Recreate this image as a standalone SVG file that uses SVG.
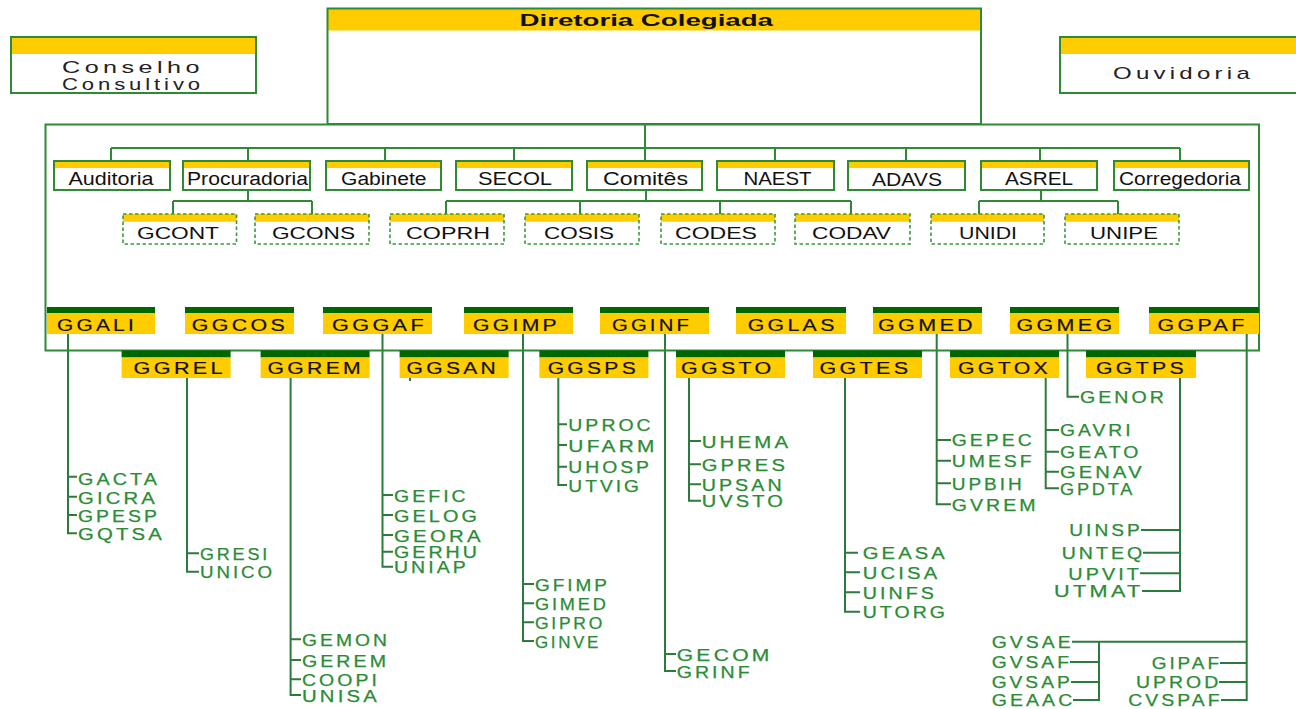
<svg xmlns="http://www.w3.org/2000/svg" width="1296" height="709" viewBox="0 0 1296 709">
<style>
.bx{fill:none;stroke:#2e8a35;stroke-width:2}
.dbx{fill:none;stroke:#3a9a3c;stroke-width:1.6;stroke-dasharray:3.5 2.5}
.wh{fill:#fff}
.yl{fill:#ffcc00}
.dg{fill:#006600}
.ln{fill:none;stroke:#2d7a3e;stroke-width:2}
.lt{fill:none;stroke:#2e8a35;stroke-width:2}
text{font-family:"Liberation Sans",Arial,sans-serif}
.t1{font-size:18px;fill:#111}
.t2{font-size:17px;fill:#111}
.tt{font-size:17px;font-weight:bold;fill:#111}
.tc{font-size:17px;fill:#222;letter-spacing:3px}
.gg{font-size:16px;fill:#111;stroke:#111;stroke-width:0.2;letter-spacing:2.5px}
.ch{font-size:16px;fill:#2b8c36;stroke:#2b8c36;stroke-width:0.25;letter-spacing:2.5px}
</style>
<rect class="wh" x="0" y="0" width="1296" height="709"/>

<g id="connectors">
<path class="lt" d="M645,124 V148 M111,148 H1180 M111,148 V161 M248,148 V161 M385,148 V161 M514,148 V161 M645,148 V161 M775,148 V161 M906,148 V161 M1040,148 V161 M1180,148 V161"/>
<path class="lt" d="M248,190 V201 M173,201 H312 M173,201 V214 M312,201 V214"/>
<path class="lt" d="M646,190 V201 M446,201 H851 M446,201 V214 M580,201 V214 M720,201 V214 M851,201 V214"/>
<path class="lt" d="M1041,190 V201 M979,201 H1118 M979,201 V214 M1118,201 V214"/>
<path class="ln" d="M68,334 V533.3 H77 M68,476.7 H77 M68,496.7 H77 M68,515 H77"/>
<path class="ln" d="M187,378 V571.7 H199 M187,553.3 H199"/>
<path class="ln" d="M290.6,378 V695 H301 M290.6,639.3 H301 M290.6,660 H301 M290.6,679.3 H301"/>
<path class="ln" d="M382.5,334 V566.7 H393 M382.5,495 H393 M382.5,515 H393 M382.5,535 H393 M382.5,551.7 H393"/>
<path class="ln" d="M410,378 V381"/>
<path class="ln" d="M523,334 V641 H534 M523,584 H534 M523,603.3 H534 M523,622.3 H534"/>
<path class="ln" d="M558.3,378 V485 H567 M558.3,424.3 H567 M558.3,445 H567 M558.3,466.7 H567"/>
<path class="ln" d="M665,334 V671 H676 M665,654 H676"/>
<path class="ln" d="M689,378 V500.7 H701 M689,441 H701 M689,464.3 H701 M689,484.3 H701"/>
<path class="ln" d="M845,378 V611.7 H860 M845,552.7 H858 M845,572.3 H860 M845,592.3 H860"/>
<path class="ln" d="M936.7,334 V504.3 H951 M936.7,440 H951 M936.7,460.7 H951 M936.7,483.3 H951"/>
<path class="ln" d="M1045.7,378 V488.3 H1059 M1045.7,430 H1059 M1045.7,451.7 H1059 M1045.7,471.7 H1059"/>
<path class="ln" d="M1067.5,334 V396.7 H1079"/>
<path class="ln" d="M1180,378 V591 H1142 M1141,530 H1180 M1143,552.7 H1180 M1140,573.3 H1180"/>
<path class="ln" d="M1246.7,334 V700 H1221 M1072,641.7 H1246.7 M1220,663 H1246.7 M1219,682 H1246.7"/>
<path class="ln" d="M1099,641.7 V700 H1073 M1070,662 H1099 M1071,682 H1099"/>
</g>

<g id="diretoria">
<rect class="wh" x="327.5" y="8.5" width="653.5" height="115.5"/>
<rect class="yl" x="328" y="9" width="652.5" height="21.5"/>
<rect class="bx" x="327.5" y="8.5" width="653.5" height="115.5"/>
<text class="tt" x="519.5" y="26" textLength="253.5" lengthAdjust="spacingAndGlyphs">Diretoria Colegiada</text>
</g>

<g id="conselho">
<rect class="wh" x="11" y="37" width="245" height="56"/>
<rect class="yl" x="11" y="37" width="245" height="17"/>
<rect class="bx" x="11" y="37" width="245" height="56"/>
<text class="tc" x="62" y="73" textLength="142" lengthAdjust="spacingAndGlyphs">Conselho</text>
<text class="tc" x="62" y="89.5" textLength="142" lengthAdjust="spacingAndGlyphs">Consultivo</text>
</g>

<g id="ouvidoria">
<rect class="wh" x="1060" y="37" width="240" height="56"/>
<rect class="yl" x="1060" y="37" width="240" height="17"/>
<rect class="bx" x="1060" y="37" width="240" height="56"/>
<text class="tc" x="1113" y="78.5" textLength="141" lengthAdjust="spacingAndGlyphs">Ouvidoria</text>
</g>

<g id="nucleo">
<rect class="bx" x="45.5" y="124.5" width="1213.5" height="226"/>
</g>

<g id="auditoria"><rect class="wh" x="54" y="161" width="116" height="29"/><rect class="yl" x="54" y="161" width="116" height="7"/><rect class="bx" x="54" y="161" width="116" height="29"/><text class="t1" x="68.5" y="185" textLength="85" lengthAdjust="spacingAndGlyphs">Auditoria</text></g>
<g id="procuradoria"><rect class="wh" x="183" y="161" width="127" height="29"/><rect class="yl" x="183" y="161" width="127" height="7"/><rect class="bx" x="183" y="161" width="127" height="29"/><text class="t1" x="187" y="185" textLength="121" lengthAdjust="spacingAndGlyphs">Procuradoria</text></g>
<g id="gabinete"><rect class="wh" x="326" y="161" width="115" height="29"/><rect class="yl" x="326" y="161" width="115" height="7"/><rect class="bx" x="326" y="161" width="115" height="29"/><text class="t1" x="341" y="185" textLength="85.5" lengthAdjust="spacingAndGlyphs">Gabinete</text></g>
<g id="secol"><rect class="wh" x="456" y="161" width="116" height="29"/><rect class="yl" x="456" y="161" width="116" height="7"/><rect class="bx" x="456" y="161" width="116" height="29"/><text class="t1" x="478" y="185" textLength="74" lengthAdjust="spacingAndGlyphs">SECOL</text></g>
<g id="comites"><rect class="wh" x="587" y="161" width="115" height="29"/><rect class="yl" x="587" y="161" width="115" height="7"/><rect class="bx" x="587" y="161" width="115" height="29"/><text class="t1" x="603" y="184.5" textLength="85" lengthAdjust="spacingAndGlyphs">Comitês</text></g>
<g id="naest"><rect class="wh" x="717" y="161" width="117" height="29"/><rect class="yl" x="717" y="161" width="117" height="7"/><rect class="bx" x="717" y="161" width="117" height="29"/><text class="t1" x="743.5" y="185" textLength="68" lengthAdjust="spacingAndGlyphs">NAEST</text></g>
<g id="adavs"><rect class="wh" x="848" y="161" width="117" height="29"/><rect class="yl" x="848" y="161" width="117" height="7"/><rect class="bx" x="848" y="161" width="117" height="29"/><text class="t1" x="872" y="186" textLength="70" lengthAdjust="spacingAndGlyphs">ADAVS</text></g>
<g id="asrel"><rect class="wh" x="981" y="161" width="116" height="29"/><rect class="yl" x="981" y="161" width="116" height="7"/><rect class="bx" x="981" y="161" width="116" height="29"/><text class="t1" x="1005" y="185" textLength="68" lengthAdjust="spacingAndGlyphs">ASREL</text></g>
<g id="corregedoria"><rect class="wh" x="1114" y="161" width="135" height="29"/><rect class="yl" x="1114" y="161" width="135" height="7"/><rect class="bx" x="1114" y="161" width="135" height="29"/><text class="t1" x="1119" y="184.5" textLength="122" lengthAdjust="spacingAndGlyphs">Corregedoria</text></g>

<g id="gcont"><rect class="wh" x="123" y="214" width="113.5" height="30"/><rect class="yl" x="123" y="214" width="113.5" height="7.7"/><rect class="dbx" x="123" y="214" width="113.5" height="30"/><text class="t2" x="137" y="238.5" textLength="82" lengthAdjust="spacingAndGlyphs">GCONT</text></g>
<g id="gcons"><rect class="wh" x="255" y="214" width="114" height="30"/><rect class="yl" x="255" y="214" width="114" height="7.7"/><rect class="dbx" x="255" y="214" width="114" height="30"/><text class="t2" x="272" y="238.5" textLength="83" lengthAdjust="spacingAndGlyphs">GCONS</text></g>
<g id="coprh"><rect class="wh" x="390" y="214" width="114" height="30"/><rect class="yl" x="390" y="214" width="114" height="7.7"/><rect class="dbx" x="390" y="214" width="114" height="30"/><text class="t2" x="406" y="238.5" textLength="84" lengthAdjust="spacingAndGlyphs">COPRH</text></g>
<g id="cosis"><rect class="wh" x="525" y="214" width="114" height="30"/><rect class="yl" x="525" y="214" width="114" height="7.7"/><rect class="dbx" x="525" y="214" width="114" height="30"/><text class="t2" x="544" y="238.5" textLength="70" lengthAdjust="spacingAndGlyphs">COSIS</text></g>
<g id="codes"><rect class="wh" x="661" y="214" width="114" height="30"/><rect class="yl" x="661" y="214" width="114" height="7.7"/><rect class="dbx" x="661" y="214" width="114" height="30"/><text class="t2" x="675" y="238.5" textLength="82" lengthAdjust="spacingAndGlyphs">CODES</text></g>
<g id="codav"><rect class="wh" x="795" y="214" width="115" height="30"/><rect class="yl" x="795" y="214" width="115" height="7.7"/><rect class="dbx" x="795" y="214" width="115" height="30"/><text class="t2" x="812" y="238.5" textLength="79" lengthAdjust="spacingAndGlyphs">CODAV</text></g>
<g id="unidi"><rect class="wh" x="931" y="214" width="113" height="30"/><rect class="yl" x="931" y="214" width="113" height="7.7"/><rect class="dbx" x="931" y="214" width="113" height="30"/><text class="t2" x="959" y="238.5" textLength="58" lengthAdjust="spacingAndGlyphs">UNIDI</text></g>
<g id="unipe"><rect class="wh" x="1065" y="214" width="114" height="30"/><rect class="yl" x="1065" y="214" width="114" height="7.7"/><rect class="dbx" x="1065" y="214" width="114" height="30"/><text class="t2" x="1090" y="238.5" textLength="68" lengthAdjust="spacingAndGlyphs">UNIPE</text></g>

<g id="ggali"><rect class="dg" x="47" y="307" width="108" height="6"/><rect class="yl" x="47" y="313" width="108" height="21"/><text class="gg" x="57" y="331" textLength="80" lengthAdjust="spacingAndGlyphs">GGALI</text></g>
<g id="ggcos"><rect class="dg" x="185" y="307" width="109" height="6"/><rect class="yl" x="185" y="313" width="109" height="21"/><text class="gg" x="191.7" y="331" textLength="96.3" lengthAdjust="spacingAndGlyphs">GGCOS</text></g>
<g id="gggaf"><rect class="dg" x="323" y="307" width="109" height="6"/><rect class="yl" x="323" y="313" width="109" height="21"/><text class="gg" x="332" y="331" textLength="95" lengthAdjust="spacingAndGlyphs">GGGAF</text></g>
<g id="ggimp"><rect class="dg" x="464" y="307" width="109" height="6"/><rect class="yl" x="464" y="313" width="109" height="21"/><text class="gg" x="473" y="331" textLength="87" lengthAdjust="spacingAndGlyphs">GGIMP</text></g>
<g id="gginf"><rect class="dg" x="600" y="307" width="109" height="6"/><rect class="yl" x="600" y="313" width="109" height="21"/><text class="gg" x="612" y="331" textLength="80" lengthAdjust="spacingAndGlyphs">GGINF</text></g>
<g id="gglas"><rect class="dg" x="736" y="307" width="110" height="6"/><rect class="yl" x="736" y="313" width="110" height="21"/><text class="gg" x="747.7" y="331" textLength="90" lengthAdjust="spacingAndGlyphs">GGLAS</text></g>
<g id="ggmed"><rect class="dg" x="873" y="307" width="109" height="6"/><rect class="yl" x="873" y="313" width="109" height="21"/><text class="gg" x="878" y="331" textLength="98" lengthAdjust="spacingAndGlyphs">GGMED</text></g>
<g id="ggmeg"><rect class="dg" x="1010" y="307" width="109" height="6"/><rect class="yl" x="1010" y="313" width="109" height="21"/><text class="gg" x="1016.5" y="331" textLength="99" lengthAdjust="spacingAndGlyphs">GGMEG</text></g>
<g id="ggpaf"><rect class="dg" x="1149" y="307" width="110" height="6"/><rect class="yl" x="1149" y="313" width="110" height="21"/><text class="gg" x="1157.6" y="331" textLength="90" lengthAdjust="spacingAndGlyphs">GGPAF</text></g>

<g id="ggrel"><rect class="dg" x="121.6" y="350.5" width="109" height="7"/><rect class="yl" x="121.6" y="357.5" width="109" height="20.5"/><text class="gg" x="133.6" y="374" textLength="92.4" lengthAdjust="spacingAndGlyphs">GGREL</text></g>
<g id="ggrem"><rect class="dg" x="260.6" y="350.5" width="109" height="7"/><rect class="yl" x="260.6" y="357.5" width="109" height="20.5"/><text class="gg" x="267.6" y="374" textLength="96.4" lengthAdjust="spacingAndGlyphs">GGREM</text></g>
<g id="ggsan"><rect class="dg" x="399.6" y="350.5" width="109" height="7"/><rect class="yl" x="399.6" y="357.5" width="109" height="20.5"/><text class="gg" x="406.6" y="374" textLength="92.4" lengthAdjust="spacingAndGlyphs">GGSAN</text></g>
<g id="ggsps"><rect class="dg" x="539.4" y="350.5" width="109" height="7"/><rect class="yl" x="539.4" y="357.5" width="109" height="20.5"/><text class="gg" x="547.7" y="374" textLength="91.3" lengthAdjust="spacingAndGlyphs">GGSPS</text></g>
<g id="ggsto"><rect class="dg" x="676" y="350.5" width="109" height="7"/><rect class="yl" x="676" y="357.5" width="109" height="20.5"/><text class="gg" x="681" y="374" textLength="93.6" lengthAdjust="spacingAndGlyphs">GGSTO</text></g>
<g id="ggtes"><rect class="dg" x="813" y="350.5" width="109" height="7"/><rect class="yl" x="813" y="357.5" width="109" height="20.5"/><text class="gg" x="819.4" y="374" textLength="92" lengthAdjust="spacingAndGlyphs">GGTES</text></g>
<g id="ggtox"><rect class="dg" x="950" y="350.5" width="109" height="7"/><rect class="yl" x="950" y="357.5" width="109" height="20.5"/><text class="gg" x="958" y="374" textLength="93" lengthAdjust="spacingAndGlyphs">GGTOX</text></g>
<g id="ggtps"><rect class="dg" x="1086" y="350.5" width="110" height="7"/><rect class="yl" x="1086" y="357.5" width="110" height="20.5"/><text class="gg" x="1096" y="374" textLength="91" lengthAdjust="spacingAndGlyphs">GGTPS</text></g>

<g id="children">
<text class="ch" x="78" y="484.5" textLength="82" lengthAdjust="spacingAndGlyphs">GACTA</text>
<text class="ch" x="78" y="503.5" textLength="80" lengthAdjust="spacingAndGlyphs">GICRA</text>
<text class="ch" x="78" y="521.5" textLength="82" lengthAdjust="spacingAndGlyphs">GPESP</text>
<text class="ch" x="78" y="539.8" textLength="87" lengthAdjust="spacingAndGlyphs">GQTSA</text>

<text class="ch" x="200" y="559.8" textLength="70" lengthAdjust="spacingAndGlyphs">GRESI</text>
<text class="ch" x="200" y="578.2" textLength="75" lengthAdjust="spacingAndGlyphs">UNICO</text>

<text class="ch" x="302" y="645.8" textLength="88" lengthAdjust="spacingAndGlyphs">GEMON</text>
<text class="ch" x="302" y="666.5" textLength="87" lengthAdjust="spacingAndGlyphs">GEREM</text>
<text class="ch" x="302" y="685.8" textLength="78" lengthAdjust="spacingAndGlyphs">COOPI</text>
<text class="ch" x="302" y="701.5" textLength="78" lengthAdjust="spacingAndGlyphs">UNISA</text>

<text class="ch" x="394" y="501.5" textLength="74.7" lengthAdjust="spacingAndGlyphs">GEFIC</text>
<text class="ch" x="394" y="521.5" textLength="86" lengthAdjust="spacingAndGlyphs">GELOG</text>
<text class="ch" x="394" y="541.5" textLength="89.7" lengthAdjust="spacingAndGlyphs">GEORA</text>
<text class="ch" x="394" y="558.2" textLength="86" lengthAdjust="spacingAndGlyphs">GERHU</text>
<text class="ch" x="394" y="573.2" textLength="74.7" lengthAdjust="spacingAndGlyphs">UNIAP</text>

<text class="ch" x="535" y="590.5" textLength="75" lengthAdjust="spacingAndGlyphs">GFIMP</text>
<text class="ch" x="535" y="609.8" textLength="73.7" lengthAdjust="spacingAndGlyphs">GIMED</text>
<text class="ch" x="535" y="628.8" textLength="70" lengthAdjust="spacingAndGlyphs">GIPRO</text>
<text class="ch" x="535" y="647.5" textLength="66" lengthAdjust="spacingAndGlyphs">GINVE</text>

<text class="ch" x="568.3" y="430.8" textLength="85.4" lengthAdjust="spacingAndGlyphs">UPROC</text>
<text class="ch" x="568.3" y="451.5" textLength="89.4" lengthAdjust="spacingAndGlyphs">UFARM</text>
<text class="ch" x="568.3" y="473.2" textLength="83.7" lengthAdjust="spacingAndGlyphs">UHOSP</text>
<text class="ch" x="568.3" y="491.5" textLength="73.7" lengthAdjust="spacingAndGlyphs">UTVIG</text>

<text class="ch" x="676.7" y="660.5" textLength="96" lengthAdjust="spacingAndGlyphs">GECOM</text>
<text class="ch" x="676.7" y="677.5" textLength="76" lengthAdjust="spacingAndGlyphs">GRINF</text>

<text class="ch" x="701.7" y="447.5" textLength="89.6" lengthAdjust="spacingAndGlyphs">UHEMA</text>
<text class="ch" x="701.7" y="470.8" textLength="86.3" lengthAdjust="spacingAndGlyphs">GPRES</text>
<text class="ch" x="701.7" y="490.8" textLength="83" lengthAdjust="spacingAndGlyphs">UPSAN</text>
<text class="ch" x="701.7" y="507.2" textLength="84.3" lengthAdjust="spacingAndGlyphs">UVSTO</text>

<text class="ch" x="862.7" y="559.2" textLength="85.3" lengthAdjust="spacingAndGlyphs">GEASA</text>
<text class="ch" x="862.7" y="578.8" textLength="77.6" lengthAdjust="spacingAndGlyphs">UCISA</text>
<text class="ch" x="862.7" y="598.8" textLength="74.3" lengthAdjust="spacingAndGlyphs">UINFS</text>
<text class="ch" x="862.7" y="618.2" textLength="85.3" lengthAdjust="spacingAndGlyphs">UTORG</text>

<text class="ch" x="951.7" y="446.2" textLength="83" lengthAdjust="spacingAndGlyphs">GEPEC</text>
<text class="ch" x="951.7" y="466.9" textLength="83" lengthAdjust="spacingAndGlyphs">UMESF</text>
<text class="ch" x="951.7" y="489.5" textLength="73" lengthAdjust="spacingAndGlyphs">UPBIH</text>
<text class="ch" x="951.7" y="510.5" textLength="87" lengthAdjust="spacingAndGlyphs">GVREM</text>

<text class="ch" x="1060" y="436.2" textLength="73.7" lengthAdjust="spacingAndGlyphs">GAVRI</text>
<text class="ch" x="1060" y="457.9" textLength="81.3" lengthAdjust="spacingAndGlyphs">GEATO</text>
<text class="ch" x="1060" y="477.9" textLength="84.7" lengthAdjust="spacingAndGlyphs">GENAV</text>
<text class="ch" x="1060" y="494.5" textLength="75.3" lengthAdjust="spacingAndGlyphs">GPDTA</text>

<text class="ch" x="1080" y="402.9" textLength="87" lengthAdjust="spacingAndGlyphs">GENOR</text>

<text class="ch" x="1069.3" y="536.2" textLength="73.4" lengthAdjust="spacingAndGlyphs">UINSP</text>
<text class="ch" x="1061.7" y="558.9" textLength="83.6" lengthAdjust="spacingAndGlyphs">UNTEQ</text>
<text class="ch" x="1068.3" y="579.5" textLength="73.7" lengthAdjust="spacingAndGlyphs">UPVIT</text>
<text class="ch" x="1054" y="597.2" textLength="89.7" lengthAdjust="spacingAndGlyphs">UTMAT</text>

<text class="ch" x="991.7" y="647.9" textLength="82" lengthAdjust="spacingAndGlyphs">GVSAE</text>
<text class="ch" x="991.7" y="668" textLength="80.3" lengthAdjust="spacingAndGlyphs">GVSAF</text>
<text class="ch" x="991.7" y="688" textLength="81" lengthAdjust="spacingAndGlyphs">GVSAP</text>
<text class="ch" x="991.7" y="705.5" textLength="83.6" lengthAdjust="spacingAndGlyphs">GEAAC</text>

<text class="ch" x="1151.7" y="669" textLength="70.3" lengthAdjust="spacingAndGlyphs">GIPAF</text>
<text class="ch" x="1136" y="688" textLength="85.3" lengthAdjust="spacingAndGlyphs">UPROD</text>
<text class="ch" x="1128.3" y="705.5" textLength="94.4" lengthAdjust="spacingAndGlyphs">CVSPAF</text>
</g>
</svg>
